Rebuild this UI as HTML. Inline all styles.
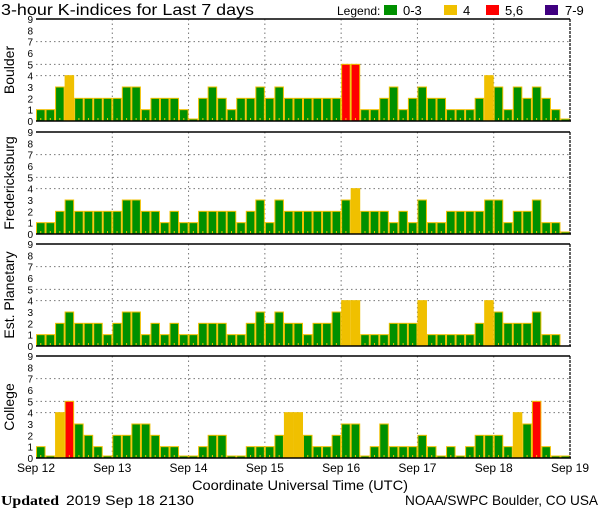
<!DOCTYPE html>
<html><head><style>
body{margin:0;background:#fff;width:600px;height:510px;overflow:hidden}
svg{display:block}
text{font-family:"Liberation Sans",sans-serif;fill:#000}
</style></head><body>
<svg id="s" width="600" height="510" xmlns="http://www.w3.org/2000/svg">
<text x="1" y="15" font-size="16" textLength="253" lengthAdjust="spacingAndGlyphs">3-hour K-indices for Last 7 days</text>
<text x="337" y="15" font-size="12">Legend:</text>
<rect x="384" y="5" width="13" height="10" fill="#009000"/><text x="403" y="15" font-size="13">0-3</text>
<rect x="444" y="5" width="13" height="10" fill="#f0c000"/><text x="463" y="15" font-size="13">4</text>
<rect x="486" y="5" width="13" height="10" fill="#ff0000"/><text x="505" y="15" font-size="13">5,6</text>
<rect x="545" y="5" width="13" height="10" fill="#400080"/><text x="565" y="15" font-size="13">7-9</text>
<text x="192" y="490" font-size="14" textLength="216" lengthAdjust="spacingAndGlyphs">Coordinate Universal Time (UTC)</text>
<text x="1" y="505" font-size="14"><tspan font-family="Liberation Serif" font-weight="bold" textLength="58" lengthAdjust="spacingAndGlyphs">Updated</tspan><tspan x="66" textLength="128" lengthAdjust="spacingAndGlyphs">2019 Sep 18 2130</tspan></text>
<text x="405" y="505" font-size="14" textLength="193" lengthAdjust="spacingAndGlyphs">NOAA/SWPC Boulder, CO USA</text>
</svg>
<script>
var s=document.getElementById('s'),NS='http://www.w3.org/2000/svg';
function el(t,a,txt){var e=document.createElementNS(NS,t);for(var k in a)e.setAttribute(k,a[k]);if(txt!=null)e.textContent=txt;s.appendChild(e);return e;}
var panels=[
 {name:'Boulder',top:19,d:[1,1,3,4,2,2,2,2,2,3,3,1,2,2,2,1,0,2,3,2,1,2,2,3,2,3,2,2,2,2,2,2,5,5,1,1,2,3,1,2,3,2,2,1,1,1,2,4,3,1,3,2,3,2,1,0]},
 {name:'Fredericksburg',top:132,d:[1,1,2,3,2,2,2,2,2,3,3,2,2,1,2,1,1,2,2,2,2,1,2,3,1,3,2,2,2,2,2,2,3,4,2,2,2,1,2,1,3,1,1,2,2,2,2,3,3,1,2,2,3,1,1,0]},
 {name:'Est. Planetary',top:244,d:[1,1,2,3,2,2,2,1,2,3,3,1,2,1,2,1,1,2,2,2,1,1,2,3,2,3,2,2,1,2,2,3,4,4,1,1,1,2,2,2,4,1,1,1,1,1,2,4,3,2,2,2,3,1,1,-1]},
 {name:'College',top:356,d:[1,0,4,5,3,2,1,0,2,2,3,3,2,1,1,0,0,1,2,2,0,0,1,1,1,2,4,4,2,1,1,2,3,3,0,1,3,1,1,1,2,1,0,1,0,1,2,2,2,1,4,3,5,1,0,0]}
];
var X0=36,X1=570,BW=(X1-X0)/56,H=102,U=H/9;
panels.forEach(function(p){
 var b=p.top+H;
 [4,5,7].forEach(function(v){el('line',{x1:X0,x2:X1,y1:b-v*U,y2:b-v*U,stroke:'#777','stroke-dasharray':'1.5,3'});});
 for(var d=1;d<7;d++){var x=X0+d*8*BW;el('line',{x1:x,x2:x,y1:p.top,y2:b,stroke:'#777','stroke-dasharray':'1.5,3'});}
 p.d.forEach(function(v,i){
  if(v<0)return;
  var x=X0+i*BW,h=v==0?2:v*U;
  var f=v<=3?'#009000':v==4?'#f0c000':v<=6?'#ff0000':'#400080';
  el('rect',{x:x+0.5,y:b-h,width:BW-1,height:h,fill:f,stroke:'#f0c000','stroke-width':1});
  if(v>0)el('rect',{x:x+BW/2-0.5,y:b-3,width:1,height:2,fill:'#f0c000'});
 });
 el('line',{x1:X0,x2:X1,y1:p.top,y2:p.top,stroke:'#000','stroke-width':1.5});
 el('line',{x1:X0,x2:X1+1,y1:b,y2:b,stroke:'#000','stroke-width':1.5});
 el('line',{x1:X1,x2:X1,y1:p.top,y2:b,stroke:'#000','stroke-width':1.2,'stroke-dasharray':'3,1'});
 for(var v=0;v<=9;v++)el('text',{x:33,y:b-v*U+4,'font-size':10,'text-anchor':'end'},v);
 var cy=p.top+H/2;
 el('text',{x:0,y:0,'font-size':14,'text-anchor':'middle',transform:'translate(14,'+cy+') rotate(-90)'},p.name);
});
['Sep 12','Sep 13','Sep 14','Sep 15','Sep 16','Sep 17','Sep 18','Sep 19'].forEach(function(t,i){
 el('text',{x:X0+i*8*BW,y:472,'font-size':12,'text-anchor':'middle'},t);
});
</script>
</body></html>
